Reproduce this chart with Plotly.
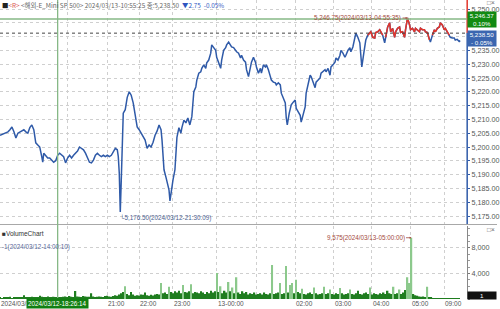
import plotly.graph_objects as go

# ---------------- data ----------------
bar_no = [0,4,8,10,12,14,16,18,20,22,24,26,28,30,32,34,36,38,40,42,43,44,46,48,50,52,54,56,58,60,
          62,64,66,68,70,72,74,76,78,80,82,84,86,88,90,92,94,96,98,100,102,104,106,108,110,112,114,116,118,119,
          120,121,122,123,124,126,128,130,132,134,136,138,140,142,144,146,148,150,152,154,156,158,160,162,163,165,167,168,170,171,
          172,174,176,178,180,182,183,185,187,189,191,193,195,197,198,200,202,203,205,207,208,210,212,213,215,217,218,220,222,223,
          225,227,228,230,232,233,235,237,238,240,242,243,245,247,248,250,252,253,255,257,258,260,262,263,265,267,268,270,272,273,
          275,277,278,280,282,283,285,287,288,289,291,293,295,297,298,300,302,303,305,307,308,310,312,313,315,317,318,320,322,323,
          325,327,328,330,332,333,335,337,338,340,342,343,345,347,348,350,352,353,355,357,358,360,362,363,364,366,367,368,370,372,
          373,375,377,378,380,382,383,385,387,388,390,392,393,395,397,398,400,402,403,405,407,408,410,412,413,415,417,418,420,422,
          423,425,427,428,430,432,433,435,437,438,440,442,443,445,447,448,450,452,453,455,457,458,460,462,463]
price = [5204.25,5205.0,5205.5,5206.25,5207.25,5205.5,5203.25,5205.0,5205.5,5205.75,5206.25,5205.5,5205.0,5207.0,5208.0,5206.25,5201.5,5200.75,5200.0,5196.5,5194.5,5197.75,5197.0,5196.0,5196.0,5195.25,5194.5,5195.0,5197.0,5197.75,
         5197.0,5196.5,5194.25,5196.0,5197.0,5196.0,5197.0,5197.75,5198.5,5200.0,5199.5,5199.0,5197.75,5196.0,5194.5,5194.25,5195.25,5197.0,5197.75,5197.0,5196.5,5197.0,5196.5,5197.0,5196.5,5197.0,5198.25,5199.5,5199.0,5196.5,
         5190.5,5176.5,5188.0,5206.25,5212.25,5213.5,5218.0,5220.0,5218.75,5216.0,5211.0,5207.25,5206.25,5205.0,5204.25,5202.5,5199.5,5200.75,5200.0,5201.75,5204.25,5205.75,5208.0,5206.25,5202.5,5191.75,5189.0,5187.0,5184.5,5180.5,
         5183.25,5188.0,5191.75,5203.5,5207.0,5205.0,5207.0,5209.75,5208.75,5210.5,5208.0,5211.0,5220.0,5221.75,5224.25,5226.75,5227.25,5228.5,5229.75,5228.5,5230.5,5231.5,5234.0,5237.0,5236.0,5235.0,5232.5,5230.75,5228.5,5231.5,
         5235.0,5236.0,5237.0,5238.0,5237.0,5236.25,5236.0,5235.0,5234.5,5234.0,5232.25,5233.25,5231.5,5230.75,5228.0,5225.5,5228.5,5230.75,5232.5,5230.75,5229.0,5226.75,5228.5,5226.75,5229.75,5229.0,5229.75,5228.0,5225.5,5224.25,
         5223.5,5223.25,5222.5,5223.25,5222.5,5219.5,5217.75,5216.0,5210.5,5208.0,5212.25,5215.25,5216.25,5217.0,5214.0,5212.75,5211.5,5209.0,5212.25,5214.5,5219.5,5223.25,5226.0,5225.5,5223.5,5221.5,5223.5,5224.25,5225.0,5226.75,
         5227.25,5228.0,5227.25,5228.5,5226.0,5229.0,5229.75,5230.75,5232.25,5231.5,5233.25,5235.0,5234.0,5232.5,5233.25,5235.0,5236.0,5234.5,5236.25,5239.75,5241.25,5239.75,5237.75,5233.25,5229.0,5234.0,5237.75,5238.75,5240.5,5241.5,
         5241.75,5239.75,5239.5,5241.5,5241.75,5242.5,5241.75,5240.5,5237.75,5239.75,5243.5,5245.0,5241.75,5243.0,5239.75,5241.75,5243.0,5243.5,5241.5,5241.75,5239.75,5242.5,5246.75,5244.25,5242.5,5243.0,5241.75,5243.0,5242.5,5241.75,
         5243.0,5242.5,5242.5,5241.75,5241.5,5238.75,5238.0,5240.5,5242.5,5241.75,5243.0,5243.5,5245.0,5244.25,5242.5,5243.0,5241.75,5240.5,5239.75,5239.5,5239.5,5238.75,5239.0,5238.25,5238.5]

# volume, one value per 2-bar bucket
volume = [200,150,300,250,200,350,150,200,250,300,
          250,200,600,300,250,200,350,300,250,200,
          500,350,300,250,400,300,250,350,300,200,
          300,250,350,400,300,450,350,300,1250,400,
          350,300,450,400,350,350,900,400,300,350,
          400,350,300,450,500,400,350,450,600,500,
          700,900,1100,2000,800,600,1100,700,500,600,
          550,700,650,1000,600,500,650,550,700,800,
          700,2500,900,1000,800,1900,1100,900,1200,1000,
          1300,900,2200,1100,1000,1200,2300,900,1100,1000,
          900,1200,1000,800,1100,900,1300,1000,1200,4060,
          1100,2000,900,1300,1000,2650,1200,1800,900,3400,
          1000,800,1200,900,1100,700,900,800,1000,700,
          800,900,700,1000,800,700,900,5300,800,900,
          1000,2500,800,900,5150,1000,2200,2500,900,3000,
          1100,900,1600,800,700,900,1000,800,1800,900,
          700,800,900,1900,800,900,1500,800,700,900,
          800,1700,900,700,800,900,1500,800,700,900,
          1300,800,700,900,1000,800,1800,700,900,800,
          700,900,800,1000,800,1300,900,800,1900,800,
          900,1500,800,1000,1400,3400,2500,9575,800,600,
          500,400,350,400,300,1900,250,200,150,150,
          100,120,80,100,60,80,50,100,60,50,80,40]
vol_bucket = 2

time_tick_pos = [0, 68, 108, 140, 174, 218, 258, 297, 336, 374, 413, 447]
# first label is cut by the crosshair box in the reference, 20:00 and 01:00 are hidden
time_tick_text = ['2024/03/1', '', '21:00', '22:00', '23:00', '13-00:00', '', '02:00', '03:00', '04:00', '05:00', '09:00']

price_tick_vals = [5175, 5180, 5185, 5190, 5195, 5200, 5205, 5210, 5215, 5220, 5225, 5230, 5235, 5240, 5245, 5250]
price_tick_text = ['5,175.00', '5,180.00', '5,185.00', '5,190.00', '5,195.00', '5,200.00', '5,205.00', '5,210.00',
                   '5,215.00', '5,220.00', '5,225.00', '5,230.00', '5,235.00', '', '', '5,250.00']
vol_tick_vals = [4000, 8000]
vol_tick_text = ['4,000', '8,000']

last_price = 5238.50
change = -2.75
change_pct = -0.05
cross_bar = 58
cross_price = 5246.37
cross_pct = 0.10
cross_time = '2024/03/12-18:26:14'
high_time = '2024/03/13-04:55:35'
low_time = '2024/03/12-21:30:09'
vol_max_time = '2024/03/13-05:00:00'
vol_min_text = '-1(2024/03/12-14:00:10)'
last_volume = 1

# ---------------- styling ----------------
BLUE = '#2f5aa8'
RED = '#e2352b'
GRID = '#cfcfcf'
TXT = '#555555'
FONT = 'Liberation Sans'
W, H = 500, 309
X_END = 470
prev_close = last_price - change

def py(px):  # pixel row -> paper fraction
    return 1 - px / H

fig = go.Figure()

n = len(price)
red = []
for i, p in enumerate(price):
    above = p > prev_close or (i > 0 and price[i-1] > prev_close) or (i < n-1 and price[i+1] > prev_close)
    red.append(p if above else None)

fig.add_trace(go.Scatter(x=bar_no, y=price, mode='lines', line=dict(color=BLUE, width=1.5),
                         xaxis='x', yaxis='y', hoverinfo='skip'))
fig.add_trace(go.Scatter(x=bar_no, y=red, mode='lines', line=dict(color=RED, width=1.5),
                         xaxis='x', yaxis='y', connectgaps=False, hoverinfo='skip'))

vx = [i * vol_bucket for i in range(len(volume))]
vcol = ['#8cc98c' if v >= 1500 else '#1f7d1f' for v in volume]
fig.add_trace(go.Bar(x=vx, y=volume, marker=dict(color=vcol, line=dict(width=0)),
                     xaxis='x2', yaxis='y2', hoverinfo='skip'))

axis_common = dict(range=[0, X_END], domain=[0, X_END / W], showticklabels=False,
                   tickvals=time_tick_pos, showgrid=True, gridcolor=GRID, griddash='dot', gridwidth=1,
                   zeroline=False, showline=False, ticks='')
fig.update_layout(
    width=W, height=H, margin=dict(l=0, r=0, t=0, b=0),
    paper_bgcolor='white', plot_bgcolor='white', showlegend=False, bargap=0.3,
    xaxis=dict(anchor='y', **axis_common),
    xaxis2=dict(anchor='y2', matches='x', **axis_common),
    yaxis=dict(domain=[py(224), 1], range=[5250 - (224 - 9) / 2.76, 5250 + 9 / 2.76],
               side='right', anchor='x', tickvals=price_tick_vals, ticktext=price_tick_text,
               tickfont=dict(family=FONT, size=7.2, color=TXT), ticks='outside', ticklen=2,
               tickcolor=BLUE, showgrid=True, gridcolor=GRID, griddash='dot', zeroline=False,
               showline=False),
    yaxis2=dict(domain=[py(299), py(226)], range=[0, (299 - 226) * 4000 / 25.6],
                side='right', anchor='x2', tickvals=vol_tick_vals, ticktext=vol_tick_text,
                tickfont=dict(family=FONT, size=7.2, color=TXT), ticks='outside', ticklen=2,
                tickcolor='#777', showgrid=True, gridcolor=GRID, griddash='dot', zeroline=False,
                showline=True, linecolor='#888', linewidth=1,
                minor=dict(dtick=1000, ticks='outside', ticklen=2, tickcolor='#999', showgrid=False)),
)

shapes = []
shapes.append(dict(type='line', xref='x', yref='y', x0=0, x1=X_END, y0=prev_close, y1=prev_close,
                   line=dict(color='#444', width=1, dash='dot')))
shapes.append(dict(type='line', xref='paper', yref='paper', x0=X_END / W, x1=X_END / W,
                   y0=py(224), y1=py(33), line=dict(color=BLUE, width=1.5)))
shapes.append(dict(type='line', xref='paper', yref='paper', x0=X_END / W, x1=X_END / W,
                   y0=py(33), y1=1, line=dict(color=RED, width=1.5)))
shapes.append(dict(type='line', xref='paper', yref='paper', x0=0, x1=1, y0=py(224.5), y1=py(224.5),
                   line=dict(color='#a8a8a8', width=1)))
shapes.append(dict(type='line', xref='x', yref='paper', x0=cross_bar, x1=cross_bar, y0=py(298), y1=1,
                   line=dict(color='#86b886', width=1.3)))
shapes.append(dict(type='line', xref='paper', yref='y', x0=0, x1=X_END / W, y0=cross_price, y1=cross_price,
                   line=dict(color='#86b886', width=1.3)))
fig.update_layout(shapes=shapes)

ann = []
for pos, txt in zip(time_tick_pos, time_tick_text):
    if txt:
        ann.append(dict(x=pos, xref='x2', y=py(303), yref='paper', text=txt, showarrow=False,
                        xanchor='left', yanchor='middle', font=dict(family=FONT, size=6.5, color=TXT), xshift=-1))
ann.append(dict(x=cross_bar, xref='x2', y=py(303.5), yref='paper', text=cross_time, showarrow=False,
                xanchor='center', yanchor='middle', bgcolor='#127f12', borderpad=1,
                font=dict(family=FONT, size=6.3, color='white')))
ann.append(dict(x=0, xref='paper', y=1, yref='paper', xanchor='left', yanchor='top', showarrow=False, yshift=1,
                text=("<span style='color:#222'>■</span><span style='color:#d9534f'>&lt;R&gt;</span>"
                      " &lt;해외-E_Mini SP 500&gt; 2024/03/13-10:55:25 종:" + f"{last_price:,.2f}" +
                      f"  <span style='color:#2f55c0'>▼{abs(change):.2f}  {change_pct:.2f}%</span>"),
                font=dict(family='Noto Sans CJK KR', size=6.4, color='#666')))
imax = max(range(n), key=lambda i: price[i])
imin = min(range(n), key=lambda i: price[i])
ann.append(dict(x=bar_no[imax], y=price[imax], xref='x', yref='y', ax=-50, ay=0,
                text=f"{price[imax]:,.2f}({high_time})", showarrow=True, arrowhead=2, arrowsize=0.5,
                arrowwidth=0.8, arrowcolor='#a34a3e', font=dict(family=FONT, size=6.3, color='#a34a3e')))
ann.append(dict(x=bar_no[imin], y=price[imin], xref='x', yref='y', xanchor='left', yanchor='middle',
                yshift=-6, xshift=-2, showarrow=False,
                text=f"└{price[imin]:,.2f}({low_time})", font=dict(family=FONT, size=6.3, color='#4b5e8e')))
vmax_i = max(range(len(volume)), key=lambda i: volume[i])
ann.append(dict(x=vx[vmax_i], y=volume[vmax_i], xref='x2', yref='y2', ax=-46, ay=0,
                text=f"{volume[vmax_i]:,}({vol_max_time})", showarrow=True, arrowhead=2, arrowsize=0.5,
                arrowwidth=0.8, arrowcolor='#a34a3e', font=dict(family=FONT, size=6.3, color='#a34a3e')))
ann.append(dict(x=0, xref='paper', y=py(233), yref='paper', xanchor='left', yanchor='middle', showarrow=False,
                text='■VolumeChart', font=dict(family=FONT, size=6.5, color='#333')))
ann.append(dict(x=0, xref='paper', y=py(247), yref='paper', xanchor='left', yanchor='middle', showarrow=False,
                text=vol_min_text, font=dict(family=FONT, size=6.3, color='#5a6a9a')))
ann.append(dict(x=1, xref='paper', y=cross_price, yref='y', xanchor='right', yanchor='middle', showarrow=False,
                text=f"{cross_price:,.2f}<br>{cross_pct:.2f}%", bgcolor='#128a12', borderpad=0, width=28,
                align='center', font=dict(family=FONT, size=6.2, color='white')))
ann.append(dict(x=1, xref='paper', y=last_price, yref='y', xanchor='right', yanchor='middle', showarrow=False,
                yshift=2.5,
                text=f"{last_price:,.2f}<br>- {abs(change_pct):.2f}%", bgcolor='#3b66b0', borderpad=0, width=28,
                align='center', font=dict(family=FONT, size=6.2, color='white')))
ann.append(dict(x=1, xref='paper', y=py(295), yref='paper', xanchor='right', yanchor='middle', showarrow=False,
                text=str(last_volume), bgcolor='#111', borderpad=0, width=28,
                font=dict(family=FONT, size=6.2, color='white')))
for yy in (3, 229):
    ann.append(dict(x=1, xref='paper', y=py(yy), yref='paper', xanchor='right', yanchor='middle', showarrow=False,
                    text='□×', font=dict(family=FONT, size=6.5, color='#666')))
fig.update_layout(annotations=ann)

fig.write_html('out.html')
